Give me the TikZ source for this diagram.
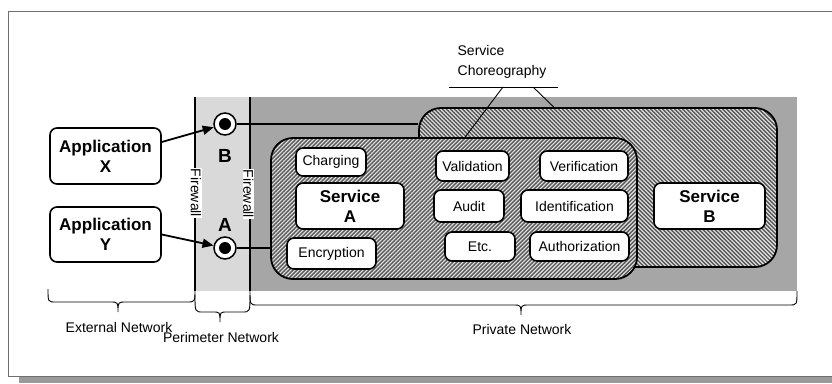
\documentclass[tikz,border=0pt]{standalone}
\usepackage{fontspec}
\setmainfont{Liberation Sans}
\usetikzlibrary{arrows.meta,patterns.meta}

\definecolor{perim}{HTML}{D9D9D9}
\definecolor{priv}{HTML}{A6A6A6}
\definecolor{hatchbg}{HTML}{E2E2E2}
\definecolor{hatchfg}{HTML}{585858}
\definecolor{framec}{HTML}{6E6E6E}
\definecolor{shadowc}{HTML}{9A9A9A}

\tikzset{
  txt/.style={font=\fontsize{14}{20}\selectfont},
  bigtxt/.style={font=\bfseries\fontsize{17}{20}\selectfont},
  portlabel/.style={font=\bfseries\fontsize{19}{20}\selectfont},
  box/.style={draw, line width=1.6pt, rounded corners=7pt, fill=white,
    inner sep=0pt, align=center},
  region/.style={draw, line width=1.8pt, rounded corners=22pt, inner sep=0pt,
    preaction={fill=hatchbg}},
  hatchNW/.style={pattern={Lines[angle=-45,distance=2.83pt,line width=1.4pt]},
    pattern color=hatchfg},
  hatchNE/.style={pattern={Lines[angle=45,distance=2.83pt,line width=1.4pt]},
    pattern color=hatchfg},
  port/.style={circle, draw, line width=1.5pt, fill=white, minimum size=22pt,
    inner sep=0pt},
  link/.style={line width=1.6pt},
  arr/.style={line width=1.8pt, -{Triangle[length=11pt,width=9pt]}},
  wall/.style={line width=1.8pt},
  walllabel/.style={txt, fill=white, inner sep=0.8pt, rotate=-90},
  lead/.style={line width=0.9pt},
  bracec/.style={line width=0.9pt},
}

\begin{document}
\begin{tikzpicture}[x=1pt, y=-1pt]
\useasboundingbox (0,0) rectangle (832,383);

% page frame and its drop shadow
\fill[shadowc] (19,377) rectangle (832,383);
\draw[framec, line width=1pt] (832,11) -- (8,11) -- (8,376) -- (832,376);

% network zones
\fill[perim] (195,97) rectangle (250,291);
\fill[priv] (250,97) rectangle (797,291);
\draw[wall] (195,97) -- (195,291);
\draw[wall] (250,97) -- (250,291);
\node[walllabel] (fw1) at (196,193) {Firewall};
\node[walllabel] (fw2) at (248.5,194) {Firewall};

% zone braces
\draw[bracec] (48,289) .. controls (48,302) .. (56,302) -- (110,302)
  .. controls (118,302) .. (118,312) .. controls (118,302) .. (126,302)
  -- (187,302) .. controls (195,302) .. (195,289);
\draw[bracec] (195,295) .. controls (195,312) .. (203,312) -- (213,312)
  .. controls (220,312) .. (220,322) .. controls (220,312) .. (227,312)
  -- (242,312) .. controls (250,312) .. (250,295);
\draw[bracec] (250,291) .. controls (250,305) .. (258,305) -- (513,305)
  .. controls (521,305) .. (521,315) .. controls (521,305) .. (529,305)
  -- (789,305) .. controls (797,305) .. (797,291);
\node[txt] (extnet) at (119,327) {External Network};
\node[txt] (pernet) at (221,337) {Perimeter Network};
\node[txt] (privnet) at (522,329) {Private Network};

% choreography regions
\node[region, hatchNW, minimum width=358pt, minimum height=159pt] (chor) at (598,187.5) {};
\node[region, hatchNE, minimum width=366pt, minimum height=141pt] (inner) at (454,208.5) {};

% external applications
\node[box, bigtxt, minimum width=111pt, minimum height=56pt] (appX) at (105.5,156) {Application\\X};
\node[box, bigtxt, minimum width=111pt, minimum height=55pt] (appY) at (105.5,234.5) {Application\\Y};

% entry points
\node[port] (cB) at (225,124) {};
\node[port] (cA) at (225,248) {};
\fill (cB) circle[radius=6pt];
\fill (cA) circle[radius=6pt];
\node[portlabel] (lB) at (225,156) {B};
\node[portlabel] (lA) at (225,225) {A};

% links into the private network
\draw[link] (cB.east) -- (cB -| chor.west);
\draw[link] (cA.east) -- (cA -| inner.west);
\draw[arr] ([yshift=14pt]appX.east) -- (cB);
\draw[arr] (appY.east) -- (cA);

% services
\node[box, bigtxt, minimum width=108pt, minimum height=46pt] (servA) at (350,206) {Service\\A};
\node[box, bigtxt, minimum width=111pt, minimum height=46pt] (servB) at (709.5,206) {Service\\B};
\node[box, txt, minimum width=70pt, minimum height=28pt] (charging) at (331,162) {Charging};
\node[box, txt, minimum width=89pt, minimum height=31pt] (encryption) at (331.5,253.5) {Encryption};
\node[box, txt, minimum width=73pt, minimum height=30pt] (validation) at (472.5,166) {Validation};
\node[box, txt, minimum width=88pt, minimum height=30pt] (verification) at (584,166) {Verification};
\node[box, txt, minimum width=70pt, minimum height=32pt] (audit) at (469,206) {Audit};
\node[box, txt, minimum width=107pt, minimum height=32pt] (identification) at (574.5,206) {Identification};
\node[box, txt, minimum width=70pt, minimum height=29pt] (etc) at (480,246.5) {Etc.};
\node[box, txt, minimum width=99pt, minimum height=29pt] (authorization) at (579.5,246.5) {Authorization};

% choreography callout
\node[txt, align=left] (chorlabel) at (502,62) {Service\\Choreography};
\coordinate (ulL) at (449,87);
\coordinate (ulR) at (558,87);
\coordinate (ld1) at (503,87);
\coordinate (ld2) at (533,87);
\coordinate (t1) at (465,0);
\coordinate (t2) at (554,0);
\draw[lead] (ulL) -- (ulR);
\draw[lead] (ld1) -- (inner.north -| t1);
\draw[lead] (ld2) -- (chor.north -| t2);
\end{tikzpicture}
\end{document}
